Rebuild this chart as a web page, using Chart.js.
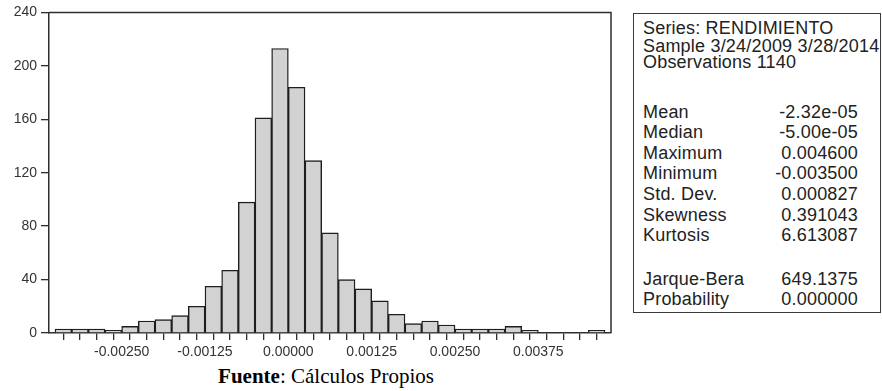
<!DOCTYPE html>
<html>
<head>
<meta charset="utf-8">
<script src="https://cdn.jsdelivr.net/npm/chart.js@4"></script>
<style>
  html, body { margin: 0; padding: 0; background: #fff; }
  body { width: 882px; height: 391px; position: relative; overflow: hidden; font-family: "Liberation Sans", Arial, sans-serif; }
  #wrap { position: absolute; left: 0; top: 0; width: 620px; height: 362px; }
  #stats { position: absolute; left: 633px; top: 13px; width: 246px; height: 298px; border: 1.5px solid #3a3a3a; color: #222; font-size: 18px; letter-spacing: 0.2px; }
  #stats div { position: absolute; white-space: nowrap; line-height: 20px; }
  #stats .lab { left: 9px; }
  #stats .val { right: 22px; text-align: right; }
  #caption { position: absolute; left: 0; width: 652px; top: 364px; text-align: center; font-family: "Liberation Serif", "Times New Roman", serif; font-size: 21px; color: #000; }
</style>
</head>
<body>
<div id="wrap"><canvas id="hist" width="620" height="362"></canvas></div>
<div id="stats"></div>
<div id="caption"><b>Fuente</b>: Cálculos Propios</div>
<script>
// Histogram of daily returns: bin edges (width 0.00025) and counts per bin
const binEdges = [
  -0.00350, -0.00325, -0.00300, -0.00275, -0.00250, -0.00225, -0.00200, -0.00175,
  -0.00150, -0.00125, -0.00100, -0.00075, -0.00050, -0.00025, 0.00000, 0.00025,
  0.00050, 0.00075, 0.00100, 0.00125, 0.00150, 0.00175, 0.00200, 0.00225,
  0.00250, 0.00275, 0.00300, 0.00325, 0.00350, 0.00375, 0.00400, 0.00425,
  0.00450, 0.00475
];
const binCounts = [
  3, 3, 3, 2, 5, 9, 10, 13,
  20, 35, 47, 98, 161, 213, 184, 129,
  75, 40, 33, 24, 14, 7, 9, 6,
  3, 3, 3, 5, 2, 0, 0, 0,
  2
];

// Labelled x ticks
const xTickValues = [-0.00250, -0.00125, 0.00000, 0.00125, 0.00250, 0.00375];
const xTickLabels = ['-0.00250', '-0.00125', '0.00000', '0.00125', '0.00250', '0.00375'];

// Y axis ticks
const yTickValues = [0, 40, 80, 120, 160, 200, 240];

// Descriptive statistics panel
const headerLines = ['Series: RENDIMIENTO', 'Sample 3/24/2009 3/28/2014', 'Observations 1140'];
const statNames = ['Mean', 'Median', 'Maximum', 'Minimum', 'Std. Dev.', 'Skewness', 'Kurtosis'];
const statValues = ['-2.32e-05', '-5.00e-05', '0.004600', '-0.003500', '0.000827', '0.391043', '6.613087'];
const testNames = ['Jarque-Bera', 'Probability'];
const testValues = ['649.1375', '0.000000'];

const points = binCounts.map((c, i) => ({ x: (binEdges[i] + binEdges[i + 1]) / 2, y: c }));

const axisColor = '#2e2e2e';
const tickFont = { family: '"Liberation Sans", Arial, sans-serif', size: 14 };

// Closes the plot box on the top and right sides
const frame = {
  id: 'frame',
  afterDraw(chart) {
    const { ctx, chartArea: a } = chart;
    ctx.save();
    ctx.strokeStyle = axisColor;
    ctx.lineWidth = 1.5;
    ctx.beginPath();
    ctx.moveTo(a.left, a.top);
    ctx.lineTo(a.right, a.top);
    ctx.lineTo(a.right, a.bottom);
    ctx.stroke();
    ctx.restore();
  }
};

new Chart(document.getElementById('hist'), {
  type: 'bar',
  data: {
    datasets: [{
      data: points,
      backgroundColor: '#d2d2d2',
      borderColor: '#1e1e1e',
      borderWidth: 1.4,
      borderSkipped: 'start',
      barPercentage: 1,
      categoryPercentage: 1
    }]
  },
  options: {
    responsive: false,
    animation: false,
    layout: { padding: { left: 0, top: 12, right: 9, bottom: 0 } },
    plugins: { legend: { display: false }, tooltip: { enabled: false } },
    scales: {
      x: {
        type: 'linear',
        min: -0.00359,
        max: 0.00484,
        offset: false,
        afterBuildTicks(scale) { scale.ticks = binEdges.map(v => ({ value: v })); },
        afterFit(scale) { scale.height = 29; },
        ticks: {
          autoSkip: false,
          maxRotation: 0,
          padding: 4,
          color: '#333',
          font: tickFont,
          callback(value) {
            const k = xTickValues.findIndex(t => Math.abs(t - value) < 1e-9);
            return k >= 0 ? xTickLabels[k] : '';
          }
        },
        grid: { drawOnChartArea: false, drawTicks: true, tickLength: 7, color: axisColor, lineWidth: 1.3 },
        border: { display: true, color: axisColor, width: 1.5 }
      },
      y: {
        min: 0,
        max: 240,
        afterBuildTicks(scale) { scale.ticks = yTickValues.map(v => ({ value: v })); },
        afterFit(scale) { scale.width = 49; },
        ticks: { padding: 4, color: '#333', font: tickFont },
        grid: { drawOnChartArea: false, drawTicks: true, tickLength: 8, color: axisColor, lineWidth: 1.3 },
        border: { display: true, color: axisColor, width: 1.5 }
      }
    }
  },
  plugins: [frame]
});

// Statistics panel text
const stats = document.getElementById('stats');
function addLine(cls, text, centerY) {
  const d = document.createElement('div');
  d.className = cls;
  d.textContent = text;
  d.style.top = (centerY - 10) + 'px';
  stats.appendChild(d);
}
const headerY = [14, 31.5, 48];
headerLines.forEach((t, i) => addLine('lab', t, headerY[i]));
statNames.forEach((t, i) => {
  const y = 97.5 + i * 20.6;
  addLine('lab', t, y);
  addLine('val', statValues[i], y);
});
testNames.forEach((t, i) => {
  const y = 265 + i * 20;
  addLine('lab', t, y);
  addLine('val', testValues[i], y);
});
</script>
</body>
</html>
